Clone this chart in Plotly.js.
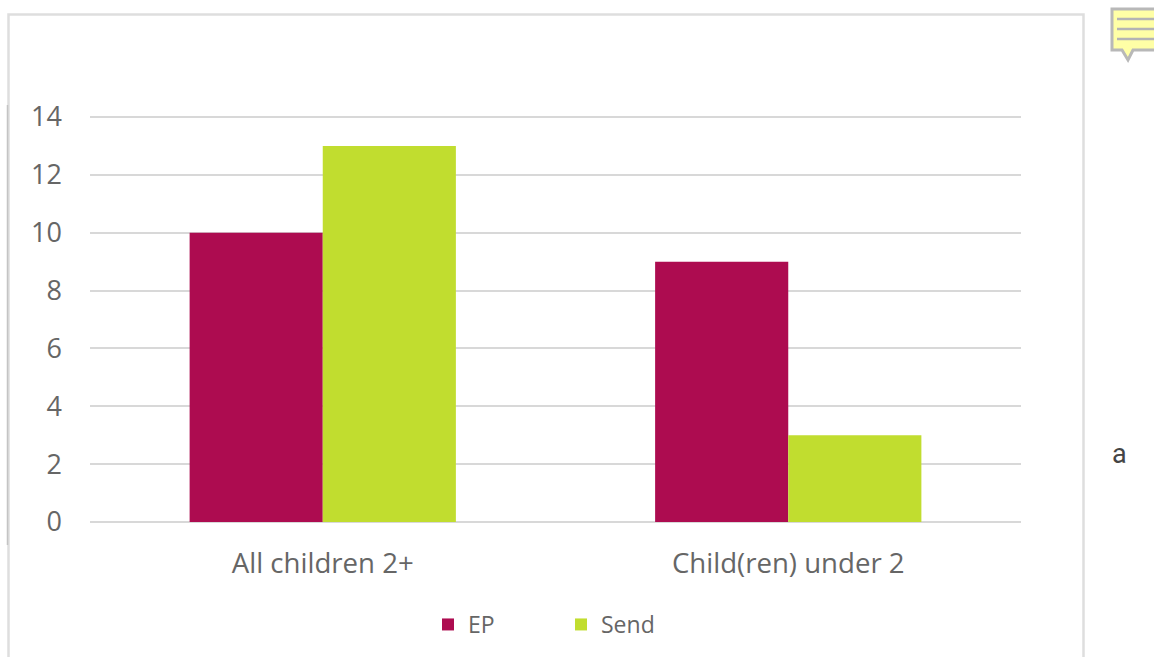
<!DOCTYPE html>
<html>
<head>
<meta charset="utf-8">
<script src="https://cdn.plot.ly/plotly-3.0.1.min.js"></script>
<style>html,body{margin:0;padding:0;background:#fff;overflow:hidden}#chart{width:1154px;height:657px}</style>
</head>
<body>
<div id="chart"></div>
<script>
const categories = ["All children 2+", "Child(ren) under 2"];
const epValues = [10, 9];
const sendValues = [13, 3];
const tickValues = [0, 2, 4, 6, 8, 10, 12, 14];

const plotL = 90, plotR = 1021, plotT = 114, plotB = 525;
const unitPx = 405 / 14;
const yPad = 3 / unitPx;
const px = x => (x - plotL) / (plotR - plotL);
const py = y => (plotB - y) / (plotB - plotT);
const paperShape = (type, x0, y0, x1, y1, extra) => Object.assign(
  {type, xref: "paper", yref: "paper", x0: px(x0), x1: px(x1), y0: py(y0), y1: py(y1), layer: "below"}, extra);
const pathOf = pts => "M" + pts.map(p => px(p[0]).toFixed(5) + "," + py(p[1]).toFixed(5)).join("L") + "Z";

const shapes = [
  paperShape("rect", 8.5, 14.5, 1083.5, 670, {line: {color: "#dedede", width: 2.5}, fillcolor: "rgba(0,0,0,0)"}),
  paperShape("line", 7.5, 105, 7.5, 545, {line: {color: "#c4c4c4", width: 1.5}}),
  {type: "path", xref: "paper", yref: "paper", layer: "above",
   path: pathOf([[1112, 9], [1160, 9], [1160, 50], [1133, 50], [1128, 60], [1122, 50], [1112, 50]]),
   fillcolor: "#ffffa6", line: {color: "#b8b8b8", width: 3}},
  paperShape("line", 1117, 19, 1160, 19, {layer: "above", line: {color: "#b4b4b4", width: 2.5}}),
  paperShape("line", 1117, 29, 1160, 29, {layer: "above", line: {color: "#b4b4b4", width: 2.5}}),
  paperShape("line", 1117, 39, 1160, 39, {layer: "above", line: {color: "#b4b4b4", width: 2.5}})
];

const font = "'Open Sans', 'Noto Sans', sans-serif";
const data = [
  {type: "bar", name: "EP", x: categories, y: epValues, marker: {color: "#ad0c50"}, hoverinfo: "x+y"},
  {type: "bar", name: "Send", x: categories, y: sendValues, marker: {color: "#c1dd2f"}, hoverinfo: "x+y"}
];
const layout = {
  width: 1154, height: 657,
  margin: {l: plotL, r: 1154 - plotR, t: plotT, b: 657 - plotB, pad: 0},
  paper_bgcolor: "#ffffff", plot_bgcolor: "#ffffff",
  barmode: "group", bargap: 0.428, bargroupgap: 0,
  font: {family: font, color: "#666666", size: 22},
  xaxis: {type: "category", showgrid: false, zeroline: false, showline: false, ticks: "",
    tickfont: {family: font, size: 27.6, color: "#666666"}, ticklabelstandoff: 19, automargin: false},
  yaxis: {range: [-yPad, 14 + yPad], tickmode: "array", tickvals: tickValues, showgrid: true, gridcolor: "#d8d8d8", gridwidth: 2,
    zeroline: false, showline: false, ticks: "",
    tickfont: {family: font, size: 27, color: "#666666"}, ticklabelstandoff: 27, automargin: false},
  showlegend: true,
  legend: {orientation: "h", xref: "container", yref: "container", x: 428 / 1154, y: 1 - 603 / 657, xanchor: "left", yanchor: "top",
    font: {family: font, size: 23, color: "#666666"}, itemwidth: 30, itemclick: false, bgcolor: "rgba(0,0,0,0)", traceorder: "normal", entrywidth: 88, entrywidthmode: "pixels"},
  annotations: [
    {xref: "paper", yref: "paper", x: px(1119), y: py(454), text: "a", showarrow: false,
     font: {family: "'Roboto', sans-serif", size: 27, color: "#444444"}, xanchor: "center", yanchor: "middle"}
  ],
  shapes
};
Plotly.newPlot("chart", data, layout, {displayModeBar: false, staticPlot: true});
</script>
</body>
</html>
